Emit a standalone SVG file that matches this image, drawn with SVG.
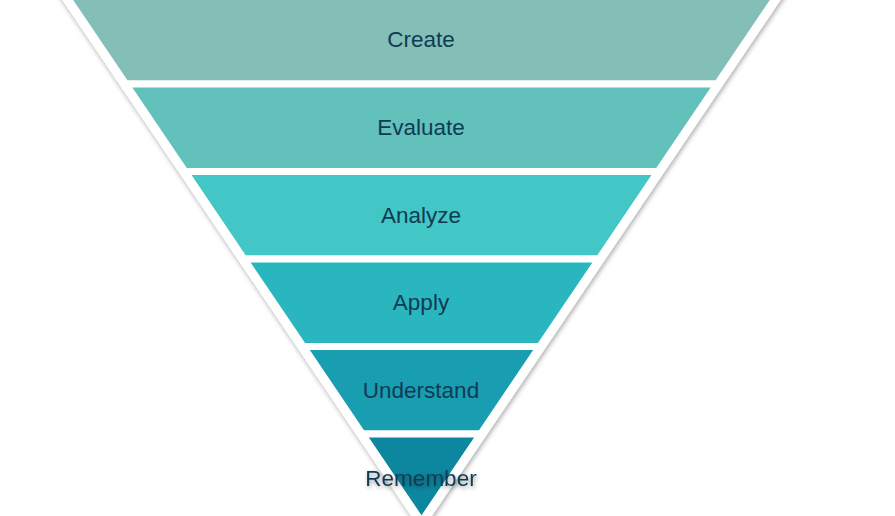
<svg xmlns="http://www.w3.org/2000/svg" width="895" height="516" viewBox="0 0 895 516">
  <defs>
    <filter id="shadow" x="-10%" y="-10%" width="120%" height="120%">
      <feDropShadow dx="1" dy="2" stdDeviation="2.5" flood-color="#000" flood-opacity="0.35"/>
    </filter>
    <filter id="tshadow" x="-20%" y="-40%" width="140%" height="180%">
      <feDropShadow dx="1" dy="2" stdDeviation="2.2" flood-color="#000" flood-opacity="0.4"/>
    </filter>
  </defs>
  <style>
    .band { stroke: #ffffff; stroke-width: 7; stroke-linejoin: miter; }
    .lbl { font-family: "Liberation Sans", Arial, sans-serif; font-size: 22.5px; fill: #0f3b53; text-anchor: middle; }
  </style>
  <rect width="895" height="516" fill="#ffffff"/>
  <polygon id="outline" points="66.6,-3.5 776.4,-3.5 421.5,521.5" fill="#ffffff" stroke="#ffffff" stroke-width="11" stroke-linejoin="miter" filter="url(#shadow)"/>
  <g id="connectors"></g>
  <g id="create">
    <polygon class="band" points="66.6,-3.5 776.4,-3.5 717.3,84 125.7,84" fill="#83bfb6"/>
    <text class="lbl" x="421" y="47">Create</text>
  </g>
  <g id="evaluate">
    <polygon class="band" points="125.7,84 717.3,84 658.1,171.5 184.9,171.5" fill="#62c1bb"/>
    <text class="lbl" x="421" y="135">Evaluate</text>
  </g>
  <g id="analyze">
    <polygon class="band" points="184.9,171.5 658.1,171.5 599,259 244,259" fill="#42c6c6"/>
    <text class="lbl" x="421" y="223">Analyze</text>
  </g>
  <g id="apply">
    <polygon class="band" points="244,259 599,259 539.8,346.5 303.2,346.5" fill="#2ab6be"/>
    <text class="lbl" x="421" y="310">Apply</text>
  </g>
  <g id="understand">
    <polygon class="band" points="303.2,346.5 539.8,346.5 480.7,434 362.3,434" fill="#189db1"/>
    <text class="lbl" x="421" y="398">Understand</text>
  </g>
  <g id="remember">
    <polygon class="band" points="362.3,434 480.7,434 421.5,521.5" fill="#0d87a0"/>
    <text class="lbl" x="421" y="486" filter="url(#tshadow)">Remember</text>
  </g>
</svg>
